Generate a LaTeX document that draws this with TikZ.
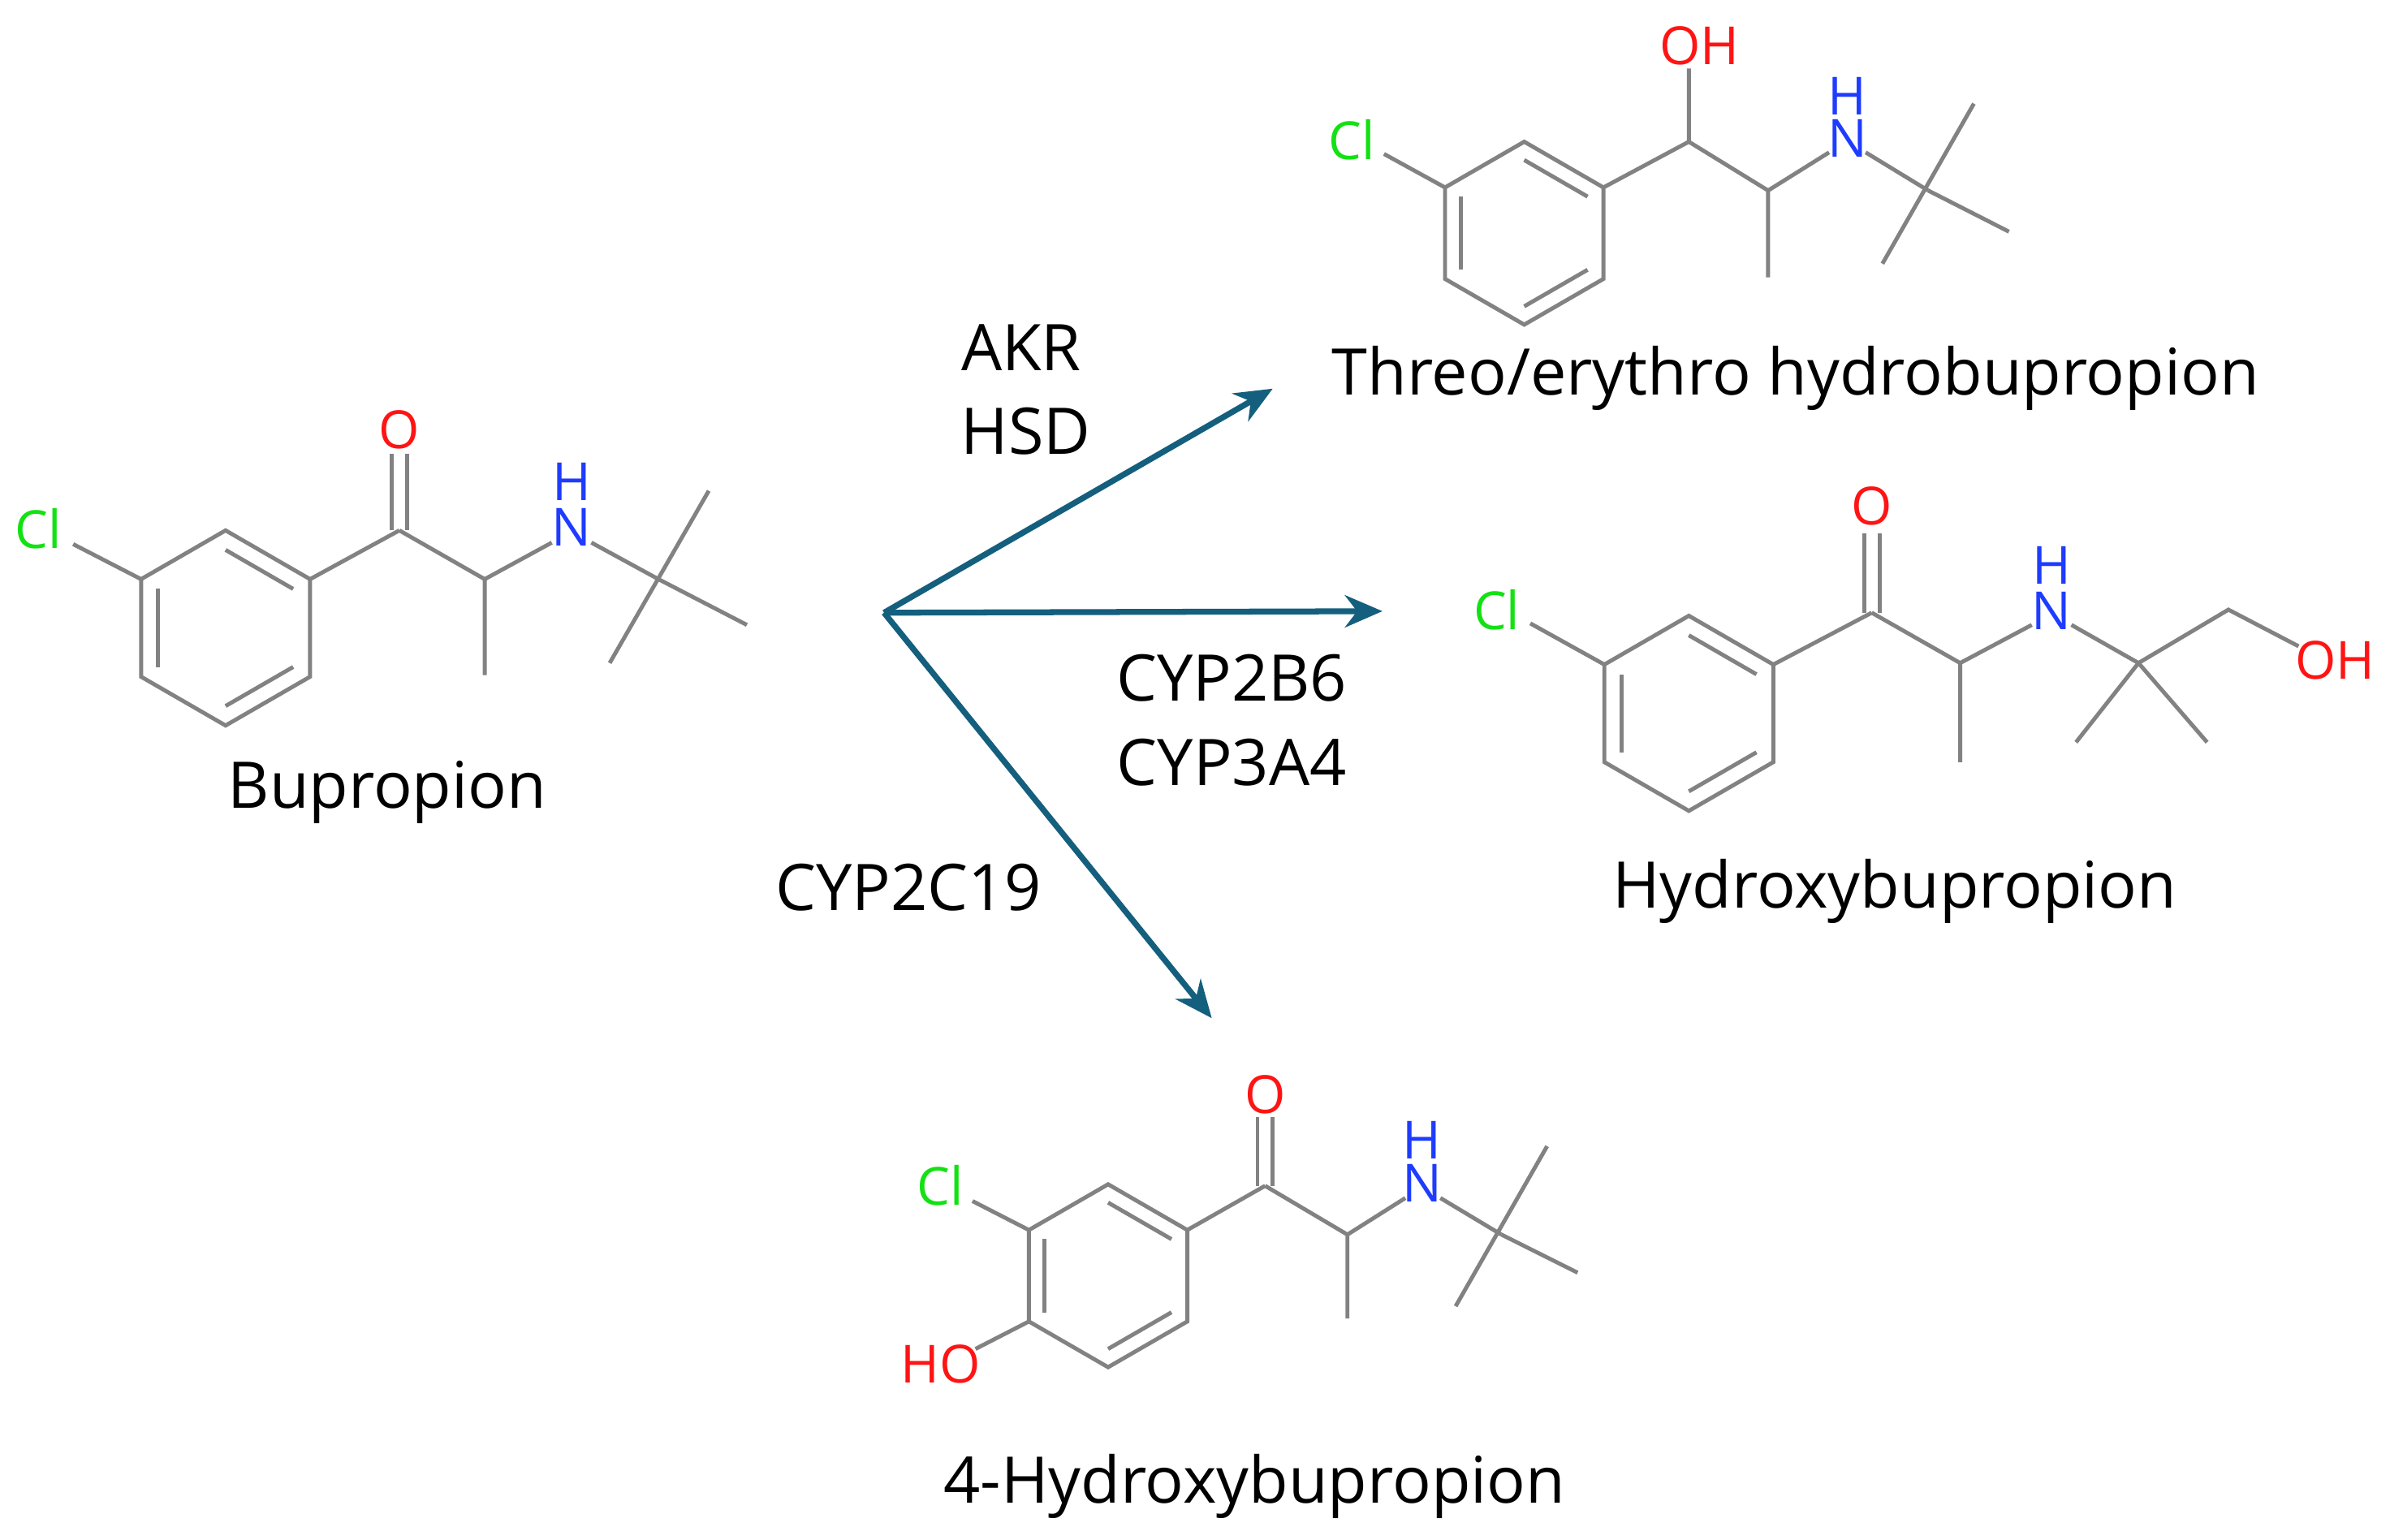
\documentclass[tikz,border=0pt]{standalone}
\usepackage{fontspec}
\setmainfont{Open Sans}
\usetikzlibrary{calc,arrows.meta}
\definecolor{bond}{RGB}{130,130,130}
\definecolor{clg}{RGB}{20,225,20}
\definecolor{ored}{RGB}{255,20,20}
\definecolor{nblue}{RGB}{30,60,255}
\definecolor{arr}{RGB}{20,95,125}
\newcommand\benz[4]{%
  \coordinate (#4c) at (#1,#2);
  \foreach \i/\a in {1/270,2/330,3/30,4/90,5/150,6/210}{\coordinate (#4\i) at ($(#4c)+(\a:#3)$);}
  \draw[bd] (#41)--(#42)--(#43)--(#44)--(#45)--(#46)--cycle;
  \draw[bd] ($(#4c)!0.8!(#41)$)--($(#4c)!0.8!(#42)$);
  \draw[bd] ($(#4c)!0.8!(#43)$)--($(#4c)!0.8!(#44)$);
  \draw[bd] ($(#4c)!0.8!(#45)$)--($(#4c)!0.8!(#46)$);
}
\begin{document}
\begin{tikzpicture}[x=0.01cm,y=-0.01cm,
  bd/.style={draw=bond,line width=0.75pt},
  atom/.style={inner sep=0pt,font=\fontsize{9.8}{11}\selectfont},
  lab/.style={inner sep=0pt,font=\fontsize{12}{14}\selectfont},
  rx/.style={draw=arr,line width=1.1pt,-{Stealth[length=7pt,width=6pt]}}]
\useasboundingbox (0,0) rectangle (1568,1010);
% Bupropion
\benz{148}{412}{64}{a}
\node[atom,text=clg] (acl) at (25,347) {Cl};
\draw[bd] (a6)--(48,357);
\draw[bd] (a2)--(262,348);
\draw[bd] (257,348)--(257,298); \draw[bd] (267,348)--(267,298);
\node[atom,text=ored] (ao) at (262,282) {O};
\draw[bd] (262,348)--(318,380)--(318,443);
\draw[bd] (318,380)--(362,356);
\node[atom,text=nblue] (an) at (375,346) {N};
\node[atom,text=nblue] (ah) at (375,316) {H};
\draw[bd] (388,356)--(432,380);
\draw[bd] (465,322)--(400,435); \draw[bd] (432,380)--(490,410);
\node[lab] (l1) at (254,520) {Bupropion};
% Threo/erythro
\benz{1000}{153}{60}{b}
\node[atom,text=clg] (bcl) at (887,92) {Cl};
\draw[bd] (b6)--(908,101);
\draw[bd] (b2)--(1108,93)--(1108,45);
\node[atom,text=ored] (bo) at (1115,30) {OH};
\draw[bd] (1108,93)--(1160,125)--(1160,182);
\draw[bd] (1160,125)--(1200,100);
\node[atom,text=nblue] (bn) at (1212,91) {N};
\node[atom,text=nblue] (bh) at (1212,63) {H};
\draw[bd] (1224,100)--(1265,125);
\draw[bd] (1295,68)--(1235,173); \draw[bd] (1265,125)--(1318,152);
\node[lab] (l2) at (1178,248) {Threo/erythro hydrobupropion};
% Hydroxybupropion
\benz{1108}{468}{64}{c}
\node[atom,text=clg] (ccl) at (982,400) {Cl};
\draw[bd] (c6)--(1004,409);
\draw[bd] (c2)--(1228,402);
\draw[bd] (1223,402)--(1223,350); \draw[bd] (1233,402)--(1233,350);
\node[atom,text=ored] (co) at (1228,332) {O};
\draw[bd] (1228,402)--(1286,435)--(1286,500);
\draw[bd] (1286,435)--(1333,410);
\node[atom,text=nblue] (cn) at (1346,401) {N};
\node[atom,text=nblue] (ch) at (1346,371) {H};
\draw[bd] (1359,410)--(1403,435)--(1462,400)--(1508,424);
\node[atom,text=ored] (coh) at (1532,433) {OH};
\draw[bd] (1403,435)--(1362,487); \draw[bd] (1403,435)--(1448,487);
\node[lab] (l3) at (1243,585) {Hydroxybupropion};
% 4-Hydroxybupropion
\benz{727}{837}{60}{d}
\node[atom,text=clg] (dcl) at (617,778) {Cl};
\draw[bd] (d6)--(638,788);
\node[atom,text=ored] (dho) at (617,895) {HO};
\draw[bd] (d5)--(640,885);
\draw[bd] (d2)--(830,778);
\draw[bd] (825,778)--(825,733); \draw[bd] (835,778)--(835,733);
\node[atom,text=ored] (do) at (830,718) {O};
\draw[bd] (830,778)--(884,810)--(884,865);
\draw[bd] (884,810)--(922,786);
\node[atom,text=nblue] (dn) at (933,776) {N};
\node[atom,text=nblue] (dh) at (933,748) {H};
\draw[bd] (945,786)--(985,810);
\draw[bd] (1015,752)--(955,857); \draw[bd] (985,810)--(1035,835);
\node[lab] (l4) at (823,975) {4-Hydroxybupropion};
% arrows
\coordinate (o) at (580,402);
\coordinate (e1) at (835,255);
\coordinate (e2) at (907,401);
\coordinate (e3) at (795,668);
\draw[rx] (o)--(e1);
\draw[rx] (o)--(e2);
\draw[rx] (o)--(e3);
\node[lab] (t1) at (670,228) {AKR};
\node[lab] (t2) at (673,283) {HSD};
\node[lab] (t3) at (808,445) {CYP2B6};
\node[lab] (t4) at (808,500) {CYP3A4};
\node[lab] (t5) at (596,582) {CYP2C19};
\end{tikzpicture}
\end{document}
